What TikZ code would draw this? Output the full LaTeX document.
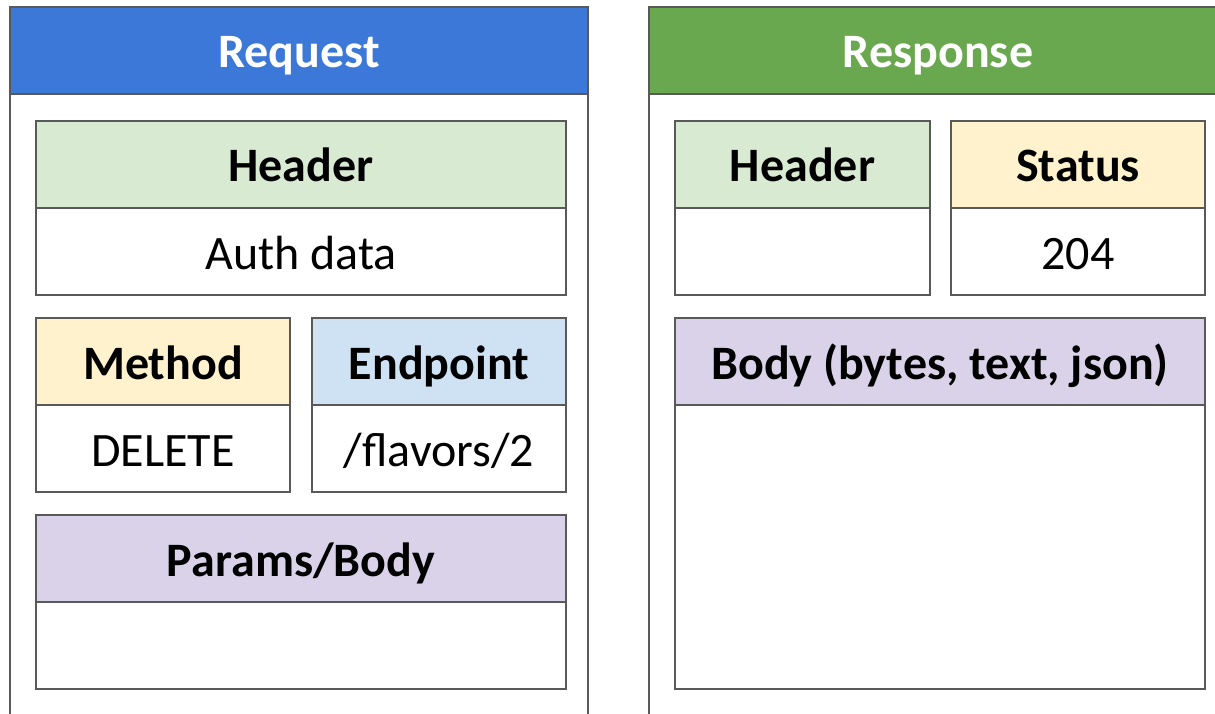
\documentclass[tikz,border=0pt]{standalone}
\usepackage{fontspec}
\setmainfont{Carlito}
\definecolor{edge}{HTML}{595959}
\definecolor{reqblue}{HTML}{3C78D8}
\definecolor{resgreen}{HTML}{6AA84F}
\definecolor{lgreen}{HTML}{D9EAD3}
\definecolor{lyellow}{HTML}{FFF2CC}
\definecolor{lblue}{HTML}{CFE2F3}
\definecolor{lpurple}{HTML}{D9D2E9}
\begin{document}
\begin{tikzpicture}[x=1pt,y=-1pt,
  cell/.style={draw=edge, line width=2pt, inner sep=0pt, fill=white,
    text height=35pt, text depth=0pt,
    font=\fontsize{48}{56}\selectfont, text=black},
  head/.style={cell, fill=#1, font=\fontsize{48}{56}\selectfont\bfseries},
  title/.style={draw=edge, line width=2pt, inner sep=0pt, fill=#1,
    text height=35pt, text depth=0pt,
    text=white, font=\fontsize{48}{56}\selectfont\bfseries},
  panel/.style={draw=edge, line width=2pt, fill=white}]
\useasboundingbox (0,0) rectangle (1215,714);
\clip (0,0) rectangle (1215,714);

% outer panels
\draw[panel] (10,94) rectangle (588,730);
\draw[panel] (649,94) rectangle (1230,730);
\node[title=reqblue, minimum width=578pt, minimum height=87pt] (reqtitle) at (299,50.5) {Request};
\node[title=resgreen, minimum width=578pt, minimum height=87pt] (restitle) at (938,50.5) {Response};

% request cells
\node[head=lgreen, minimum width=530pt, minimum height=87pt] (rqhead) at (301,164.5) {Header};
\node[cell, minimum width=530pt, minimum height=87pt] (rqheadv) at (301,251.5) {Auth data};
\node[head=lyellow, minimum width=254pt, minimum height=87pt] (rqmeth) at (163,361.5) {Method};
\node[cell, minimum width=254pt, minimum height=87pt] (rqmethv) at (163,448.5) {DELETE};
\node[head=lblue, minimum width=254pt, minimum height=87pt] (rqend) at (439,361.5) {Endpoint};
\node[cell, minimum width=254pt, minimum height=87pt] (rqendv) at (439,448.5) {/flavors/2};
\node[head=lpurple, minimum width=530pt, minimum height=87pt] (rqpar) at (301,558.5) {Params/Body};
\node[cell, minimum width=530pt, minimum height=87pt] (rqparv) at (301,645.5) {};

% response cells
\node[head=lgreen, minimum width=255pt, minimum height=87pt] (rshead) at (802.5,164.5) {Header};
\node[cell, minimum width=255pt, minimum height=87pt] (rsheadv) at (802.5,251.5) {};
\node[head=lyellow, minimum width=254pt, minimum height=87pt] (rsstat) at (1078,164.5) {Status};
\node[cell, minimum width=254pt, minimum height=87pt] (rsstatv) at (1078,251.5) {204};
\node[head=lpurple, minimum width=530pt, minimum height=87pt] (rsbody) at (940,361.5) {Body (bytes, text, json)};
\node[cell, minimum width=530pt, minimum height=284pt] (rsbodyv) at (940,547) {};
\end{tikzpicture}
\end{document}
